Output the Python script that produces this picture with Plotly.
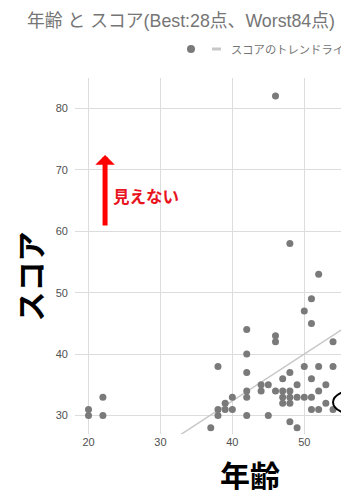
#########################################
# Age vs score scatter with a trendline #
#########################################

import plotly.graph_objects as go

# data (age, score)
ages = [20, 20, 22, 22, 37, 38, 38, 38, 39, 39, 40, 40,
        42, 42, 42, 42, 42, 42, 44, 44, 45, 45,
        46, 46, 46, 46, 47, 47, 47, 47,
        48, 48, 48, 48, 48, 48, 49, 49, 49, 50, 50, 50,
        51, 51, 51, 51, 51, 52, 52, 52, 52, 53, 53,
        54, 54, 54, 56, 56, 56]
scores = [30, 31, 30, 33, 28, 30, 31, 38, 31, 32, 31, 33,
          30, 33, 34, 37, 40, 44, 34, 35, 30, 35,
          34, 42, 43, 82, 32, 33, 34, 36,
          29, 32, 33, 34, 37, 58, 28, 33, 35, 33, 38, 47,
          31, 33, 36, 45, 49, 31, 34, 38, 53, 32, 35,
          31, 38, 42, 31, 68, 70]

# trendline end values (linear trend as drawn)
trend_ages = [18, 60]
trend_scores = [15.6, 47.65]

x_ticks = [20, 30, 40, 50, 60]
y_ticks = [30, 40, 50, 60, 70, 80]

title_text = "年齢 と スコア(Best:28点、Worst84点)"
legend_text = "スコアのトレンドライン"

# the page body has an 8px margin, so the figure is drawn 8px smaller
# and every page position below is shifted by that offset
OFF = 8
W, H = 349 - OFF, 490 - OFF
L, R, T, B = 75 - OFF, 0, 78 - OFF, 56

latin = "Liberation Sans, Arial, Noto Sans CJK JP"
cjk = "Noto Sans CJK JP, Liberation Sans"

fig = go.Figure()
fig.add_trace(go.Scatter(x=trend_ages, y=trend_scores, mode="lines",
                         line=dict(color="#c8c8c8", width=1.5),
                         hoverinfo="skip", showlegend=False))
fig.add_trace(go.Scatter(x=ages, y=scores, mode="markers",
                         marker=dict(color="#7a7a7a", size=7),
                         showlegend=False))

# page pixel -> paper coordinates
def px_x(p):
    return (p - OFF - L) / (W - L - R)

def px_y(p):
    return (H - B - (p - OFF)) / (H - T - B)

annotations = [
    # legend label
    dict(text=legend_text, xref="paper", yref="paper", x=px_x(229), y=px_y(49),
         xanchor="left", yanchor="middle", showarrow=False,
         font=dict(size=11.3, color="#757575", family=cjk)),
    # hand-added notes
    dict(text="見えない", xref="x", yref="y", x=27.95, y=65.7,
         xanchor="center", yanchor="middle", showarrow=False,
         font=dict(size=16.5, color="#e8141e", family=cjk, weight="bold")),
    dict(text="", xref="x", yref="y", x=22.3, y=72.4,
         axref="x", ayref="y", ax=22.3, ay=60.7, showarrow=True,
         arrowhead=1, arrowwidth=5, arrowsize=0.65, arrowcolor="#ff0000",
         standoff=0),
    dict(text="年齢", xref="paper", yref="paper", x=px_x(250), y=px_y(474),
         xanchor="center", yanchor="middle", showarrow=False,
         font=dict(size=30, color="#000000", family=cjk, weight="bold")),
    dict(text="スコア", xref="paper", yref="paper", x=px_x(28.5), y=px_y(277),
         xanchor="center", yanchor="middle", showarrow=False, textangle=-90,
         font=dict(size=30, color="#000000", family=cjk, weight="bold")),
]

shapes = [
    # legend marks
    dict(type="circle", xref="paper", yref="paper",
         x0=px_x(187), x1=px_x(195), y0=px_y(53), y1=px_y(45),
         fillcolor="#7a7a7a", line=dict(width=0)),
    dict(type="line", xref="paper", yref="paper",
         x0=px_x(212), x1=px_x(221), y0=px_y(49), y1=px_y(49),
         line=dict(color="#c8c8c8", width=3)),
    # circled point on the right edge
    dict(type="circle", xref="x", yref="y", x0=54.0, x1=61.5, y0=30.0, y1=34.3,
         line=dict(color="#000000", width=2)),
]

fig.update_layout(
    width=W, height=H,
    margin=dict(l=L, r=R, t=T, b=B),
    paper_bgcolor="white", plot_bgcolor="white",
    title=dict(text=title_text, x=(181 - OFF) / W, xanchor="center",
               y=1 - (21 - OFF) / H, yanchor="middle",
               font=dict(size=17.8, color="#757575", family=latin)),
    annotations=annotations,
    shapes=shapes,
    showlegend=False,
)
fig.update_xaxes(range=[18.12, 56.22], tickvals=x_ticks, showgrid=True,
                 gridcolor="#dcdcdc", zeroline=False, showline=False, ticks="",
                 tickfont=dict(size=11, color="#505050", family=latin))
fig.update_yaxes(range=[27.0, 84.93], tickvals=y_ticks, showgrid=True,
                 gridcolor="#dcdcdc", zeroline=False, showline=False, ticks="",
                 ticklabelstandoff=6,
                 tickfont=dict(size=11, color="#505050", family=latin))

fig.write_html("out.html")
